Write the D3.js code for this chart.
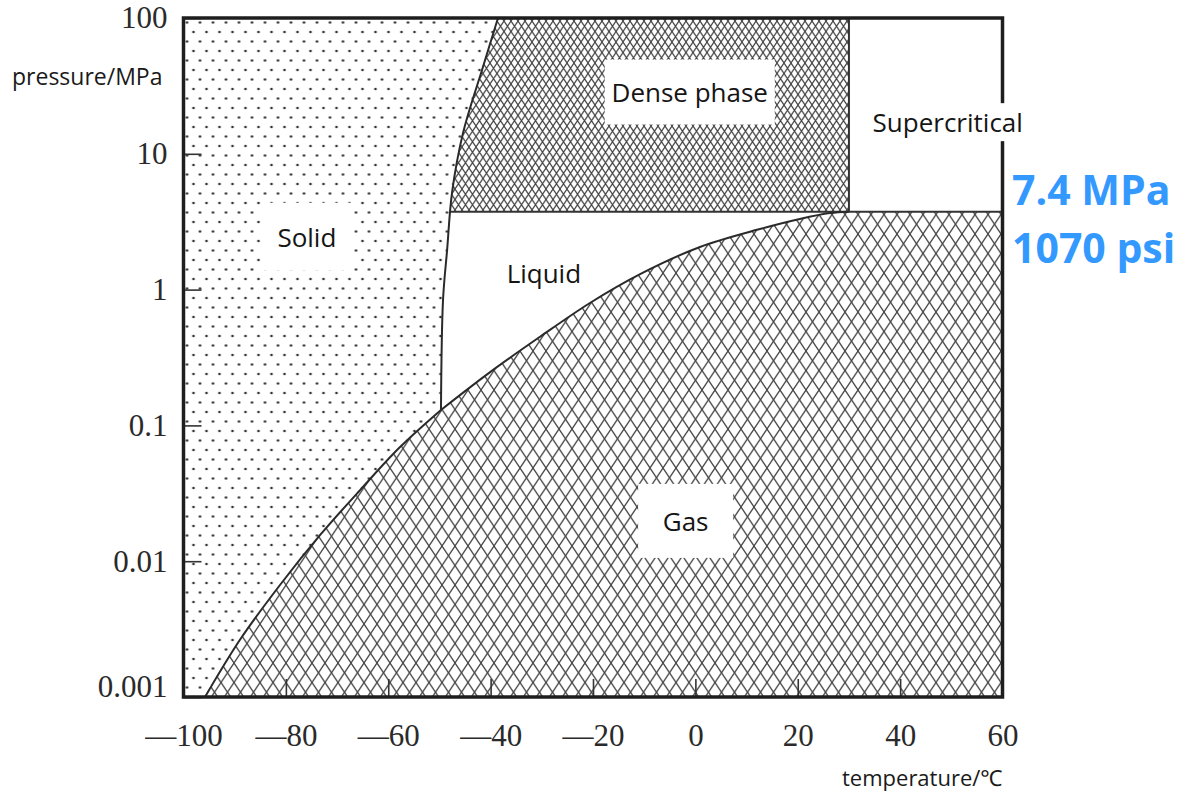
<!DOCTYPE html>
<html>
<head>
<meta charset="utf-8">
<script src="https://cdn.jsdelivr.net/npm/d3@7"></script>
<style>
  html, body { margin: 0; padding: 0; background: #fff; }
  svg { display: block; }
</style>
</head>
<body>
<svg id="chart" width="1183" height="793"></svg>
<script>
// CO2 phase diagram: temperature (°C) vs pressure (MPa, log scale)

// Sublimation curve (solid / gas), from the lower edge up to the triple point
const sublimationT = [-95.8, -89.0, -81.15, -73.3, -65.5, -57.7, -49.7];
const sublimationP = [0.001, 0.00263, 0.00668, 0.0156, 0.0334, 0.0693, 0.130];

// Vaporization curve (liquid / gas), triple point up to the critical point
const vaporT = [-49.7, -40.1, -30.4, -20.6, -10.8, 0.9, 12.6, 20.4, 26.3, 30];
const vaporP = [0.130, 0.247, 0.448, 0.797, 1.30, 2.06, 2.79, 3.31, 3.66, 3.75];

// Melting curve (solid / liquid and solid / dense phase)
const meltT = [-49.7, -49.3, -48.5, -47.55, -45.4, -41.5, -38.56];
const meltP = [0.130, 0.838, 1.96, 5.14, 14.2, 43.6, 100];

// Critical point
const criticalT = 30;
const criticalP = 3.75;

// Axis ticks
const tempTicks = [-100, -80, -60, -40, -20, 0, 20, 40, 60];
const pressureTicks = [0.001, 0.01, 0.1, 1, 10, 100];
const pressureTickLabels = ["0.001", "0.01", "0.1", "1", "10", "100"];

// Region names and where they sit
const regionNames = ["Solid", "Liquid", "Gas", "Dense phase", "Supercritical"];
const regionT = [-75.9, -29.6, -1.9, -1.1, 49.3];
const regionP = [2.45, 1.32, 0.0198, 28.5, 17.1];
const annotationLines = ["7.4 MPa", "1070 psi"];

const svg = d3.select("#chart");
const plot = { left: 183.5, right: 1002.5, top: 18, bottom: 697 };

const x = d3.scaleLinear().domain([-100, 60]).range([plot.left, plot.right]);
const y = d3.scaleLog().domain([0.001, 100]).range([plot.bottom, plot.top]);

// ---------- patterns ----------
const defs = svg.append("defs");

const dots = defs.append("pattern")
  .attr("id", "dots").attr("patternUnits", "userSpaceOnUse")
  .attr("width", 13).attr("height", 19)
  .attr("x", plot.left).attr("y", plot.top);
dots.append("rect").attr("width", 13).attr("height", 19).attr("fill", "#fff");
dots.append("circle").attr("cx", 3.5).attr("cy", 4.5).attr("r", 1.35).attr("fill", "#333");
dots.append("circle").attr("cx", 10).attr("cy", 14).attr("r", 1.35).attr("fill", "#333");

function crossHatch(id, w, h, sw, color) {
  const p = defs.append("pattern")
    .attr("id", id).attr("patternUnits", "userSpaceOnUse")
    .attr("width", w).attr("height", h);
  p.append("rect").attr("width", w).attr("height", h).attr("fill", "#fff");
  const k = h / w;
  p.append("path")
    .attr("d", `M${-1},${-k} L${w + 1},${h + k} M${w + 1},${-k} L${-1},${h + k}` +
               `M${-1},${h - k} L${1},${h + k} M${w - 1},${-k} L${w + 1},${k}` +
               `M${-1},${k} L${1},${-k} M${w - 1},${h + k} L${w + 1},${h - k}`)
    .attr("stroke", color).attr("stroke-width", sw).attr("fill", "none");
}
crossHatch("gasHatch", 13, 19.5, 1.3, "#454545");
crossHatch("denseHatch", 7, 10.5, 1.2, "#454545");

// ---------- geometry helpers ----------
const pts = (T, P) => T.map((t, i) => [x(t), y(P[i])]);
const subPts = pts(sublimationT, sublimationP);
const vapPts = pts(vaporT, vaporP);
const meltPts = pts(meltT, meltP);

const smooth = d3.line().curve(d3.curveCatmullRom.alpha(0.5));
const cont = d => smooth(d).replace(/^M/, "L");

// background
svg.append("rect")
  .attr("x", plot.left).attr("y", plot.top)
  .attr("width", plot.right - plot.left).attr("height", plot.bottom - plot.top)
  .attr("fill", "#fff");

// dense phase: above the critical pressure, below the critical temperature
svg.append("rect")
  .attr("x", x(-100)).attr("y", y(100))
  .attr("width", x(criticalT) - x(-100)).attr("height", y(criticalP) - y(100))
  .attr("fill", "url(#denseHatch)");

// gas region
svg.append("path")
  .attr("d", smooth(subPts) + cont(vapPts) +
    `L${x(60)},${y(criticalP)} L${x(60)},${y(0.001)} Z`)
  .attr("fill", "url(#gasHatch)");

// critical pressure and critical temperature boundaries
svg.append("line")
  .attr("x1", x(-60)).attr("x2", x(60))
  .attr("y1", y(criticalP)).attr("y2", y(criticalP))
  .attr("stroke", "#333").attr("stroke-width", 2);
svg.append("line")
  .attr("x1", x(criticalT)).attr("x2", x(criticalT))
  .attr("y1", y(criticalP)).attr("y2", y(100))
  .attr("stroke", "#333").attr("stroke-width", 2);

// solid region
svg.append("path")
  .attr("d", `M${x(-100)},${y(0.001)}` + cont(subPts) + cont(meltPts) +
    `L${x(-100)},${y(100)} Z`)
  .attr("fill", "url(#dots)");

// phase boundary curves
svg.append("path")
  .attr("d", smooth(subPts) + cont(vapPts))
  .attr("fill", "none").attr("stroke", "#2a2a2a").attr("stroke-width", 2);
svg.append("path")
  .attr("d", smooth(meltPts))
  .attr("fill", "none").attr("stroke", "#2a2a2a").attr("stroke-width", 2);

// ---------- axes ----------
const serif = "'Liberation Serif', 'Times New Roman', serif";
const sans = "'Open Sans', 'Noto Sans', sans-serif";

const xAxis = d3.axisBottom(x)
  .tickValues(tempTicks)
  .tickSizeInner(-18).tickSizeOuter(0).tickPadding(27)
  .tickFormat(d => d < 0 ? "\u2014" + Math.abs(d) : String(d));
const gx = svg.append("g").attr("transform", `translate(0,${plot.bottom})`).call(xAxis);

const yAxis = d3.axisLeft(y)
  .tickValues(pressureTicks)
  .tickSizeInner(-18).tickSizeOuter(0).tickPadding(16)
  .tickFormat((d, i) => pressureTickLabels[i]);
const gy = svg.append("g").attr("transform", `translate(${plot.left},0)`).call(yAxis);

[gx, gy].forEach(g => {
  g.select(".domain").remove();
  g.selectAll(".tick line").attr("stroke", "#333").attr("stroke-width", 1.6);
  g.selectAll(".tick text")
    .attr("fill", "#2a2a2a")
    .style("font-family", serif).style("font-size", "31px");
});
// lift the lowest pressure label clear of the temperature labels
gy.selectAll(".tick text").filter(d => d === 0.001).attr("dy", "-0.03em");

// frame
svg.append("rect")
  .attr("x", plot.left).attr("y", plot.top)
  .attr("width", plot.right - plot.left).attr("height", plot.bottom - plot.top)
  .attr("fill", "none").attr("stroke", "#1e1e1e").attr("stroke-width", 3.5);

// axis titles
svg.append("text")
  .attr("x", 12).attr("y", 76)
  .attr("dominant-baseline", "central")
  .style("font-family", sans).style("font-size", "23px").attr("fill", "#1a1a1a")
  .text("pressure/MPa");
svg.append("text")
  .attr("x", 842).attr("y", 777)
  .attr("dominant-baseline", "central")
  .style("font-family", sans).style("font-size", "22px").attr("fill", "#1a1a1a")
  .text("temperature/\u2103");

// ---------- region labels ----------
const boxSizes = [[92, 68], [0, 0], [95, 74], [170, 65], [172, 38]];
regionNames.forEach((name, i) => {
  const cx = x(regionT[i]), cy = y(regionP[i]);
  const [bw, bh] = boxSizes[i];
  if (bw > 0) {
    svg.append("rect")
      .attr("x", cx - bw / 2).attr("y", cy - bh / 2)
      .attr("width", bw).attr("height", bh)
      .attr("fill", "#fff");
  }
  svg.append("text")
    .attr("x", cx).attr("y", cy)
    .attr("text-anchor", "middle").attr("dominant-baseline", "central")
    .style("font-family", sans).style("font-size", "26px").attr("fill", "#151515")
    .text(name);
});

// critical pressure annotation
annotationLines.forEach((t, i) => {
  svg.append("text")
    .attr("x", 1012).attr("y", 189 + i * 58)
    .attr("dominant-baseline", "central")
    .style("font-family", sans).style("font-size", "41px").style("font-weight", "bold")
    .attr("fill", "#3399ff")
    .text(t);
});
</script>
</body>
</html>
